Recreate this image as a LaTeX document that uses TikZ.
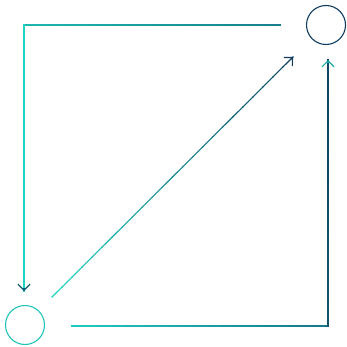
\documentclass[tikz,border=0pt]{standalone}
\usepackage{tikz}
\usetikzlibrary{arrows.meta, calc}
\usepackage{xcolor}

\definecolor{cyanA}{HTML}{1FD3C3}
\definecolor{navyA}{HTML}{0F3C5E}

\tikzset{
  link/.style={line width=1.1pt, line cap=rect},
  tipline/.style={line width=1.1pt, -{Straight Barb[length=6pt, width=12pt]}},
  spot/.style={circle, draw, line width=1.1pt, minimum size=39pt, inner sep=0pt}
}

% segment whose colour runs from #3 to #4 (percent of navyA)
\newcommand{\gradseg}[4]{%
  \foreach \k in {0,...,23} {
    \pgfmathsetmacro\pa{\k/24}
    \pgfmathsetmacro\pb{(\k+1)/24}
    \pgfmathsetmacro\mix{#3+(#4-#3)*(\k+0.5)/24}
    \draw[link, draw=navyA!\mix!cyanA] ($(#1)!\pa!(#2)$) -- ($(#1)!\pb!(#2)$);
  }%
}

\begin{document}
\begin{tikzpicture}[x=1pt, y=-1pt]
\useasboundingbox (0,0) rectangle (347,347);

\node[spot, draw=navyA] (top) at (326,25) {};
\node[spot, draw=cyanA!90!navyA] (bot) at (25,325) {};

% left path
\coordinate (aS) at (280,25);
\coordinate (aC) at (24,25);
\coordinate (aE) at (24,291);
\gradseg{aS}{aC}{55}{18}
\gradseg{aC}{aE}{0}{0}
\draw[tipline, navyA!80!cyanA] ($(aE)!3pt!(aC)$) -- (aE);

% diagonal
\coordinate (dS) at (52,297);
\coordinate (dE) at (293,57);
\gradseg{dS}{dE}{0}{95}
\draw[tipline, navyA] ($(dE)!3pt!(dS)$) -- (dE);

% right path
\coordinate (bS) at (72,326);
\coordinate (bC) at (328,326);
\coordinate (bE) at (328,60);
\gradseg{bS}{bC}{5}{60}
\gradseg{bC}{bE}{85}{95}
\draw[tipline, cyanA!70!navyA] ($(bE)!3pt!(bC)$) -- (bE);
\end{tikzpicture}
\end{document}
